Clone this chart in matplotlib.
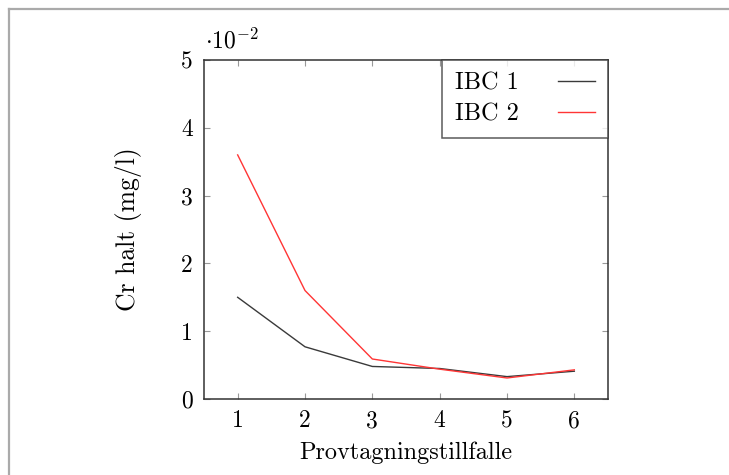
import matplotlib
matplotlib.use("Agg")
import matplotlib.pyplot as plt
from matplotlib.ticker import FuncFormatter
from matplotlib.lines import Line2D

# data (mg/l)
tillfalle = [1, 2, 3, 4, 5, 6]
ibc1 = [0.0150, 0.0077, 0.0048, 0.0045, 0.0033, 0.0041]
ibc2 = [0.0360, 0.0160, 0.0059, 0.0044, 0.0031, 0.0043]
yticks = [0, 0.01, 0.02, 0.03, 0.04, 0.05]

plt.rcParams['font.family'] = ['cmr10', 'DejaVu Serif']
plt.rcParams['mathtext.fontset'] = 'cm'
plt.rcParams['axes.unicode_minus'] = False

fig = plt.figure(figsize=(7.29, 4.75), dpi=100)
ax = fig.add_axes([204/729, 1 - 399/475, 404/729, 339/475])

ax.plot(tillfalle, ibc1, color='#3a3a3a', lw=1.0, label='IBC 1')
ax.plot(tillfalle, ibc2, color='#ff3535', lw=1.0, label='IBC 2')

ax.set_xlim(0.5, 6.5)
ax.set_ylim(0, 0.05)
ax.set_xticks(tillfalle)
ax.set_yticks(yticks)
ax.yaxis.set_major_formatter(FuncFormatter(lambda v, p: '%d' % round(v * 100)))
ax.tick_params(direction='in', length=4, width=0.8, color='#999999',
               top=True, right=True, labelsize=17, pad=8)
for s in ax.spines.values():
    s.set_color('#333333')
    s.set_linewidth(1.1)

ax.text(0.003, 1.02, r'$\cdot 10^{-2}$', transform=ax.transAxes,
        ha='left', va='bottom', fontsize=17)

ax.set_xlabel('Provtagningstillfalle', fontsize=17.5, labelpad=7)
ax.set_ylabel('Cr halt (mg/l)', fontsize=18.5, labelpad=28)

leg = ax.legend(loc='upper right', markerfirst=False, fontsize=17.5,
                frameon=True, fancybox=False, borderaxespad=0,
                handlelength=1.55, handletextpad=1.6, borderpad=0.52,
                labelspacing=0.35)
leg.get_frame().set_edgecolor('#333333')
leg.get_frame().set_linewidth(1.1)

# grey frame around the picture (left and top only)
fig.add_artist(Line2D([8.5/729, 8.5/729], [0, 1 - 8.5/475],
                      transform=fig.transFigure, color='#aaaaaa', lw=1.6))
fig.add_artist(Line2D([8.5/729, 1], [1 - 8.5/475, 1 - 8.5/475],
                      transform=fig.transFigure, color='#aaaaaa', lw=1.6))

fig.savefig('out.png', dpi=100)
